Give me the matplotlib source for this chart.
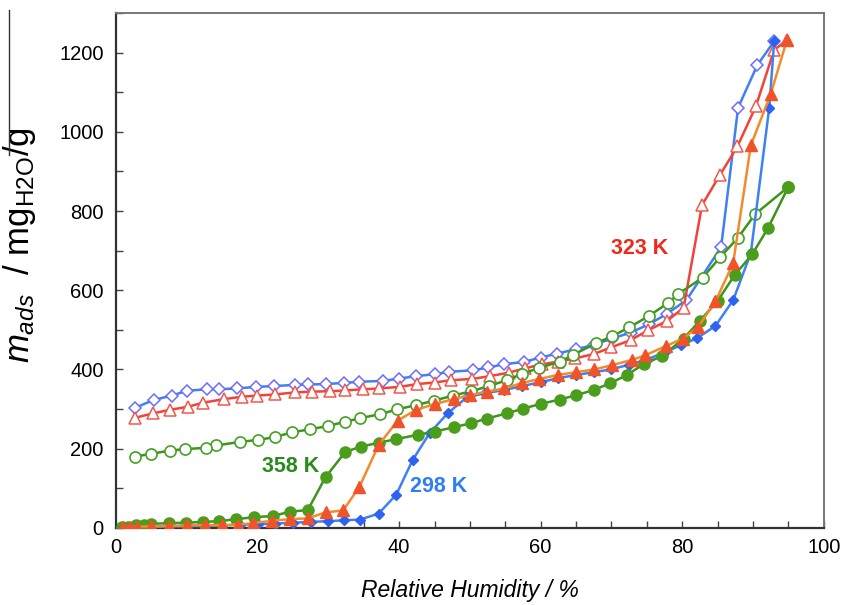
import matplotlib
matplotlib.use("Agg")
import matplotlib.pyplot as plt
from matplotlib.lines import Line2D
from matplotlib.ticker import MultipleLocator

plt.rcParams['font.family'] = ['Liberation Sans', 'DejaVu Sans']
plt.rcParams['mathtext.fontset'] = 'custom'
plt.rcParams['mathtext.rm'] = 'Liberation Sans'
plt.rcParams['mathtext.it'] = 'Liberation Sans:italic'

# ---- data (Relative humidity %, m_ads mg/g) ----
rh_298_ads = [0.5, 1.5, 3, 5, 7.5, 10, 12.5, 15, 17.5, 20, 22.5, 25, 27.5, 30, 32.2, 34.5,
              37.1, 39.6, 41.9, 44.3, 46.9, 49.6, 52.2, 54.8, 57.4, 60, 62.5, 65, 67.5, 69.9,
              72.5, 75, 77.5, 79.9, 82.1, 84.7, 87.2, 89.7, 92.3, 93.0]
m_298_ads = [0, 1, 1, 2, 3, 4, 5, 6, 8, 9, 11, 13, 15, 17, 19, 21,
             36, 84, 171, 239, 290, 330, 340, 348, 358, 368, 378, 386, 393, 400,
             412, 425, 443, 462, 479, 510, 575, 694, 1061, 1229]

rh_298_des = [93.0, 90.6, 87.9, 85.5, 80.6, 77.8, 75.3, 72.7, 70.1, 67.5, 65.0, 62.3, 60.0,
              57.6, 54.8, 52.6, 50.5, 47.1, 45.0, 42.4, 40.0, 37.7, 34.4, 32.2, 29.6, 27.1,
              25.3, 22.3, 19.8, 17.1, 14.5, 12.8, 10.0, 7.9, 5.3, 2.7]
m_298_des = [1229, 1168, 1061, 709, 575, 540, 514, 493, 478, 462, 451, 440, 430,
             419, 413, 405, 398, 394, 388, 383, 377, 371, 369, 366, 363, 362,
             361, 358, 356, 352, 350, 350, 346, 334, 323, 303]

rh_323_ads = [1, 2, 3, 5, 7.5, 10, 12.5, 15, 17.3, 19.4, 22, 24.6, 27.1, 29.6, 32.1, 34.4,
              37.1, 39.8, 42.4, 45.1, 47.7, 50.0, 52.4, 54.8, 57.4, 59.8, 62.4, 65.0, 67.6,
              70.1, 72.9, 74.8, 77.7, 80.1, 82.2, 84.7, 87.2, 89.7, 92.5, 94.8]
m_323_ads = [1, 2, 3, 4, 5, 6, 7, 7, 8, 12, 18, 22, 24, 39, 44, 104,
             209, 271, 298, 313, 325, 335, 344, 352, 366, 376, 386, 393, 400,
             411, 424, 436, 459, 478, 506, 572, 668, 966, 1095, 1232]

rh_323_des = [94.8, 93.0, 90.4, 87.8, 85.3, 82.8, 80.2, 77.9, 75.2, 72.7, 70.0, 67.5, 64.9,
              62.5, 60.2, 57.8, 55.5, 52.8, 50.3, 47.4, 45.0, 42.5, 40.1, 37.2, 34.9, 32.4,
              30.3, 27.7, 25.3, 22.5, 19.9, 17.8, 15.2, 12.3, 10.2, 7.6, 5.2, 2.7]
m_323_des = [1232, 1207, 1064, 963, 890, 815, 556, 523, 499, 474, 456, 439, 428,
             420, 413, 403, 392, 383, 376, 373, 367, 363, 356, 352, 350, 347,
             345, 344, 342, 337, 334, 331, 325, 316, 306, 298, 289, 278]

rh_358_ads = [0.8, 1.7, 2.8, 3.9, 4.9, 7.5, 9.9, 12.3, 14.6, 17.0, 19.5, 22.2, 24.6, 27.1,
              29.6, 32.4, 34.6, 37.1, 39.6, 42.6, 45.0, 47.7, 50.1, 52.4, 55.2, 57.5, 60.0,
              62.7, 65.0, 67.5, 69.8, 72.2, 74.6, 77.2, 80.2, 82.5, 85.0, 87.4, 89.9, 92.1, 95.0]
m_358_ads = [2, 3, 6, 8, 10, 12, 13, 15, 17, 22, 27, 30, 41, 45,
             128, 192, 205, 215, 224, 235, 243, 254, 264, 276, 289, 301, 313,
             324, 335, 348, 365, 386, 414, 434, 478, 523, 573, 638, 691, 756, 861]

rh_358_des = [95.0, 90.3, 87.9, 85.4, 82.9, 79.4, 78.0, 75.3, 72.5, 70.1, 67.8, 64.5, 62.8,
              59.8, 57.4, 55.2, 52.7, 50.2, 47.6, 44.9, 42.4, 39.7, 37.3, 34.5, 32.4, 29.9,
              27.4, 24.8, 22.4, 20.0, 17.5, 14.1, 12.7, 9.8, 7.6, 4.95, 2.7]
m_358_des = [861, 792, 733, 684, 632, 590, 568, 535, 506, 484, 466, 436, 420,
             404, 389, 373, 358, 345, 334, 321, 310, 299, 287, 277, 268, 257,
             249, 241, 229, 222, 217, 208, 202, 199, 195, 187, 180]

labels = ["358 K", "298 K", "323 K"]
label_pos_x = [20.6, 41.6, 69.9]
label_pos_y = [154, 104, 706]

# ---- figure ----
fig = plt.figure(figsize=(8.44, 6.05), dpi=100)
ax = fig.add_axes([0.1375, 0.1275, 0.8385, 0.851])

blue_line = '#3f80f2'
orange_line = '#f58a2c'
red_line = '#f2423a'
green_line = '#3d951e'

# desorption (open markers)
ax.plot(rh_298_des, m_298_des, '-', color=blue_line, lw=1.8, marker='D', ms=6,
        mfc='white', mec='#6a6cff', mew=1.1, zorder=3)
ax.plot(rh_323_des, m_323_des, '-', color=red_line, lw=1.8, marker='^', ms=8.5,
        mfc='white', mec='#f2574d', mew=1.1, zorder=3)
ax.plot(rh_358_des, m_358_des, '-', color=green_line, lw=1.8, marker='o', ms=8,
        mfc='white', mec='#45a025', mew=1.2, zorder=3)
# adsorption (filled markers)
ax.plot(rh_298_ads, m_298_ads, '-', color=blue_line, lw=1.8, marker='D', ms=5.5,
        mfc='#2d63f0', mec='#2d63f0', zorder=4)
ax.plot(rh_323_ads, m_323_ads, '-', color=orange_line, lw=1.8, marker='^', ms=8,
        mfc='#f0522a', mec='#f0522a', zorder=5)
ax.plot(rh_358_ads, m_358_ads, '-', color=green_line, lw=1.8, marker='o', ms=8,
        mfc='#4a9e1c', mec='#4a9e1c', zorder=4)

label_colors = ['#2a8a1e', '#2f7ff2', '#f2281a']
for t, x, y, c in zip(labels, label_pos_x, label_pos_y, label_colors):
    ax.text(x, y, t, color=c, fontsize=15.5, fontweight='bold', ha='left', va='center')

ax.set_xlim(0, 100)
ax.set_ylim(0, 1300)
ax.xaxis.set_major_locator(MultipleLocator(20))
ax.xaxis.set_minor_locator(MultipleLocator(5))
ax.yaxis.set_minor_locator(MultipleLocator(100))
ax.set_yticks([0, 200, 400, 600, 800, 1000, 1200])
ax.tick_params(which='both', direction='in', length=5, width=1.0, color='#444444',
               top=False, right=False)
ax.tick_params(axis='y', labelsize=14.5, pad=9)
ax.tick_params(axis='x', labelsize=14.5, pad=7)

for s in ['left', 'bottom']:
    ax.spines[s].set_color('#333333')
    ax.spines[s].set_linewidth(1.6)
for s in ['top', 'right']:
    ax.spines[s].set_color('#777777')
    ax.spines[s].set_linewidth(1.4)

ax.set_xlabel('Relative Humidity / %', fontsize=16.5, style='italic', labelpad=16)
ax.set_ylabel(r'$m_{ads}$  / mg$_{\mathrm{H2O}}$/g', fontsize=25, labelpad=4)
ax.yaxis.set_label_coords(-0.110, 0.55)

# overline artefact next to the y label
fig.add_artist(Line2D([8.5 / 844, 8.5 / 844], [1 - 10 / 605, 1 - 155 / 605],
                      transform=fig.transFigure, color='#333333', lw=1.0))

fig.savefig('out.png', dpi=100)
